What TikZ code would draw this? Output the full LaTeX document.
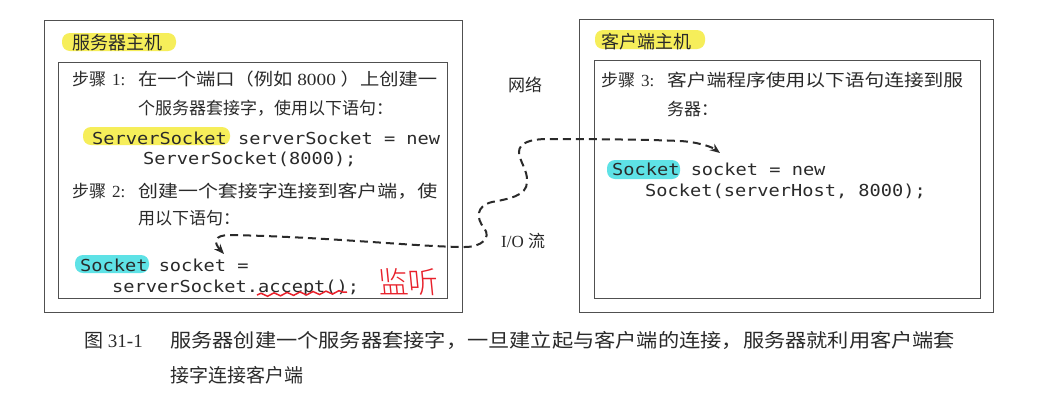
\documentclass[tikz,border=0pt]{standalone}
\usepackage{fontspec}
\usepackage{graphicx}
\setmainfont{Liberation Serif}
\newfontfamily\song{Noto Sans CJK SC}
\newfontfamily\songlight{Noto Sans CJK SC Light}
\newfontfamily\codefont[FakeStretch=1.13]{DejaVu Sans Mono}
\usetikzlibrary{arrows.meta,decorations.pathmorphing}
\definecolor{boxgray}{HTML}{505050}
\definecolor{hlyellow}{HTML}{F6EE5A}
\definecolor{hlcyan}{HTML}{5EE2E6}
\definecolor{ink}{HTML}{2A2A2A}
\definecolor{pen}{HTML}{E8202A}
\tikzset{
  hostbox/.style={draw=boxgray, line width=1.2pt, inner sep=0pt, anchor=north west},
  cn/.style={anchor=base west, inner sep=0pt, text=ink, font=\song\fontsize{17}{17}\selectfont},
  ttl/.style={anchor=base west, inner sep=0pt, text=ink, font=\song\fontsize{18}{18}\selectfont},
  code/.style={anchor=base west, inner sep=0pt, text=ink, font=\codefont\fontsize{16.5}{16.5}\selectfont},
  capt/.style={anchor=base west, inner sep=0pt, text=ink, font=\song\fontsize{19}{19}\selectfont},
  hl/.style={rounded corners=8pt},
  iolink/.style={draw=ink, line width=2pt, dash pattern=on 8pt off 5pt, {Stealth[length=10pt,width=8pt]}-{Stealth[length=10pt,width=8pt]}},
}
\begin{document}
\begin{tikzpicture}[x=1pt,y=-1pt]
\useasboundingbox[fill=white] (0,0) rectangle (1037,400);

% host boxes
\node[hostbox, minimum width=418pt, minimum height=292pt] (srvouter) at (44,20) {};
\node[hostbox, minimum width=389pt, minimum height=236pt] (srvinner) at (58,62) {};
\node[hostbox, minimum width=414pt, minimum height=293pt] (cliouter) at (579,19) {};
\node[hostbox, minimum width=386pt, minimum height=238pt] (cliinner) at (594,60) {};

% highlights
\fill[hlyellow, hl] (62,33) rectangle (176,51);
\fill[hlyellow, hl] (595,30) rectangle (705,49);
\fill[hlyellow, hl] (83,127) rectangle (230,145);
\fill[hlcyan, hl] (75,255) rectangle (149,273);
\fill[hlcyan, hl] (607,160) rectangle (680,179);

% titles
\node[ttl] (srvtitle) at (72,49) {服务器主机};
\node[ttl] (clititle) at (601,48) {客户端主机};

% step 1
\node[cn] (s1lab) at (72,85) {步骤\hspace{6pt}{\rmfamily 1:}};
\node[cn] (s1a) at (138,85) {\resizebox{299pt}{\height}{在一个端口（例如{\rmfamily\ 8000\ }）上创建一}};
\node[cn] (s1b) at (138,114) {个服务器套接字，使用以下语句：};
\node[code] (c1a) at (92,144) {ServerSocket serverSocket = new};
\node[code] (c1b) at (143,164.5) {ServerSocket(8000);};

% step 2
\node[cn] (s2lab) at (72,197) {步骤\hspace{6pt}{\rmfamily 2:}};
\node[cn] (s2a) at (138,197) {\resizebox{299pt}{\height}{创建一个套接字连接到客户端，使}};
\node[cn] (s2b) at (138,224) {用以下语句：};
\node[code] (c2a) at (80,271) {Socket socket =};
\node[code] (c2b) at (112,292) {serverSocket.accept();};

% step 3
\node[cn] (s3lab) at (601,86) {步骤\hspace{6pt}{\rmfamily 3:}};
\node[cn] (s3a) at (667,86) {\resizebox{296pt}{\height}{客户端程序使用以下语句连接到服}};
\node[cn] (s3b) at (667,115) {务器：};
\node[code] (c3a) at (612,175) {Socket socket = new};
\node[code] (c3b) at (645,196) {Socket(serverHost, 8000);};

% network labels
\node[cn] (net) at (508,91) {网络};
\node[cn] (io) at (501,247) {{\rmfamily I/O\ }流};

% handwritten note
\node[text=pen, inner sep=0pt, font=\songlight\fontsize{30}{30}\selectfont, xslant=-0.1] (listen) at (408,282) {监听};
\draw[pen, line width=1.5pt, decorate, decoration={snake, segment length=13pt, amplitude=1.6pt}] (257,295) -- (347,292);

% I/O stream connector
\coordinate (ioS) at (224,254);
\coordinate (ioC) at (720,153);
\draw[iolink] (ioS) .. controls (214,243) and (213,235) .. (230,235)
  .. controls (330,237) and (420,247) .. (465,247)
  .. controls (481,247) and (492,238) .. (484,228)
  .. controls (476,218) and (476,206) .. (492,202)
  .. controls (508,199) and (527,196) .. (527,182)
  .. controls (528,170) and (519,161) .. (519,152)
  .. controls (519,143) and (530,139) .. (548,139)
  .. controls (610,139) and (660,140) .. (680,141)
  .. controls (698,142) and (712,147) .. (ioC);

% caption
\node[capt] (capnum) at (84,347.5) {图{\rmfamily\ 31-1}};
\node[capt] (cap1) at (170,347.5) {\resizebox{785pt}{\height}{服务器创建一个服务器套接字，一旦建立起与客户端的连接，服务器就利用客户端套}};
\node[capt] (cap2) at (170,382.5) {接字连接客户端};
\end{tikzpicture}
\end{document}
